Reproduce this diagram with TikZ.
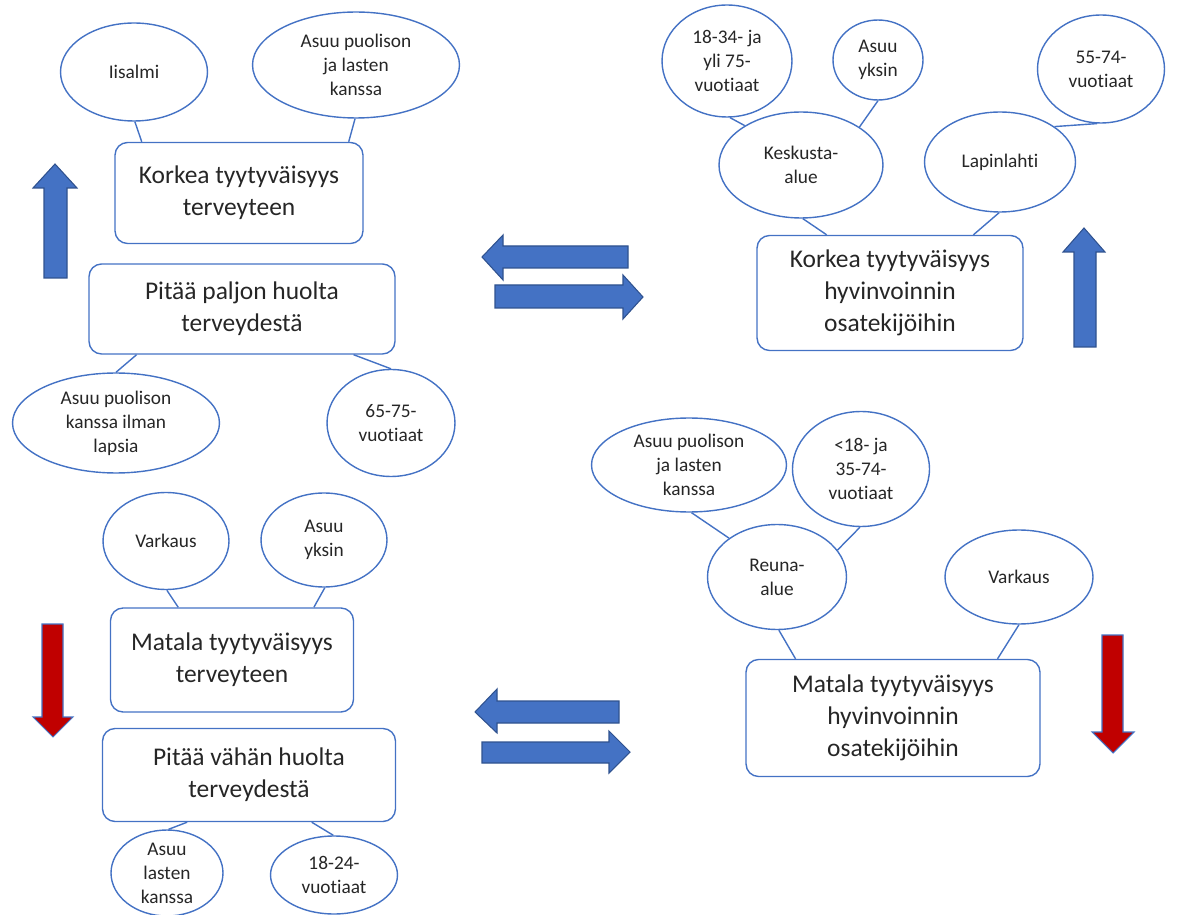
\documentclass[tikz,border=0pt]{standalone}
\usepackage{fontspec}
\setmainfont{Carlito}[Ligatures={NoCommon,NoContextual}]
\usetikzlibrary{shapes.geometric,calc}
\definecolor{officeblue}{RGB}{68,114,196}
\definecolor{darkblue}{RGB}{47,82,143}
\definecolor{darkred}{RGB}{192,0,0}

\begin{document}
\begin{tikzpicture}[x=0.02cm, y=-0.02cm,
        oval/.style={ellipse, draw=officeblue, line width=0.8pt, inner sep=0pt, align=center,
            text=black!85, font=\fontsize{11}{13.6}\selectfont},
        box/.style={rectangle, rounded corners=0.25cm, draw=officeblue, line width=0.8pt,
            align=center, text=black!85, font=\fontsize{14.5}{18.2}\selectfont},
        link/.style={draw=officeblue, line width=0.8pt},
        uparrow/.style={fill=officeblue, draw=darkblue, line width=0.6pt},
        downarrow/.style={fill=darkred, draw=officeblue, line width=0.6pt}]

        \useasboundingbox (0,0) rectangle (1194,915);

        % terveys, korkea
        \node[box, minimum width=4.96cm, minimum height=2.02cm] (kt) at (239,193) {Korkea tyytyväisyys\\terveyteen};
        \node[box, minimum width=6.12cm, minimum height=1.8cm] (pp) at (242,309) {Pitää paljon huolta\\terveydestä};
        \node[oval, minimum width=2.94cm, minimum height=1.96cm] (ia) at (134,72) {Iisalmi};
        \node[oval, minimum width=4.14cm, minimum height=2.12cm] (ap1) at (356,65) {Asuu puolison\\ja lasten\\kanssa};
        \node[oval, minimum width=4.14cm, minimum height=2.0cm] (ak) at (116,423) {Asuu puolison\\kanssa ilman\\lapsia};
        \node[oval, minimum width=2.56cm, minimum height=2.14cm] (v65) at (391,423) {65-75-\\vuotiaat};

        \draw[link] (ia.-89) -- ($(kt.north west)!.11!(kt.north east)$);
        \draw[link] (ap1.-91) -- ($(kt.north west)!.94!(kt.north east)$);
        \draw[link] ($(pp.south west)!.157!(pp.south east)$) -- (ak.90);
        \draw[link] ($(pp.south west)!.863!(pp.south east)$) -- (v65.90);

        % hyvinvointi, korkea
        \node[box, minimum width=5.32cm, minimum height=2.3cm] (kh) at (890,293) {Korkea tyytyväisyys\\hyvinvoinnin\\osatekijöihin};
        \node[oval, minimum width=2.6cm, minimum height=2.24cm] (a18) at (727,61) {18-34- ja\\yli 75-\\vuotiaat};
        \node[oval, minimum width=1.8cm, minimum height=1.6cm] (ay1) at (878,60) {Asuu\\yksin};
        \node[oval, minimum width=2.54cm, minimum height=2.16cm] (v55) at (1101,69) {55-74-\\vuotiaat};
        \node[oval, minimum width=3.28cm, minimum height=2.12cm] (kk) at (801,165) {Keskusta-\\alue};
        \node[oval, minimum width=3.02cm, minimum height=2.0cm] (lp) at (1000,162) {Lapinlahti};

        \draw[link] (a18.-87) -- (kk.145);
        \draw[link] (ay1.-90) -- (kk.33);
        \draw[link] (v55.-94) -- (lp.33);
        \draw[link] (kk.-88) -- ($(kh.north west)!.263!(kh.north east)$);
        \draw[link] (lp.-91) -- ($(kh.north west)!.812!(kh.north east)$);

        % terveys, matala
        \node[box, minimum width=4.86cm, minimum height=2.08cm] (mt) at (232,660) {Matala tyytyväisyys\\terveyteen};
        \node[box, minimum width=5.86cm, minimum height=1.86cm] (pv) at (249,775) {Pitää vähän huolta\\terveydestä};
        \node[oval, minimum width=2.52cm, minimum height=1.94cm] (va1) at (166,541) {Varkaus};
        \node[oval, minimum width=2.52cm, minimum height=1.88cm] (ay2) at (324,540) {Asuu\\yksin};
        \node[oval, minimum width=2.24cm, minimum height=1.72cm] (al) at (167,873) {Asuu\\lasten\\kanssa};
        \node[oval, minimum width=2.54cm, minimum height=1.56cm] (v18) at (334,875) {18-24-\\vuotiaat};

        \draw[link] (va1.-89) -- ($(mt.north west)!.28!(mt.north east)$);
        \draw[link] (ay2.-89) -- ($(mt.north west)!.835!(mt.north east)$);
        \draw[link] ($(pv.south west)!.29!(pv.south east)$) -- (al.88);
        \draw[link] ($(pv.south west)!.713!(pv.south east)$) -- (v18.91);

        % hyvinvointi, matala
        \node[box, minimum width=5.88cm, minimum height=2.34cm] (mh) at (893,718) {Matala tyytyväisyys\\hyvinvoinnin\\osatekijöihin};
        \node[oval, minimum width=3.9cm, minimum height=1.88cm] (ap2) at (689,465) {Asuu puolison\\ja lasten\\kanssa};
        \node[oval, minimum width=2.74cm, minimum height=2.3cm] (a35) at (861,469) {<18- ja\\35-74-\\vuotiaat};
        \node[oval, minimum width=2.78cm, minimum height=2.1cm] (ra) at (777,577) {Reuna-\\alue};
        \node[oval, minimum width=2.96cm, minimum height=1.88cm] (va2) at (1019,577) {Varkaus};

        \draw[link] (ap2.-87) -- (ra.141);
        \draw[link] (a35.-91) -- (ra.24);
        \draw[link] (ra.-88) -- ($(mh.north west)!.17!(mh.north east)$);
        \draw[link] (va2.-90) -- ($(mh.north west)!.854!(mh.north east)$);

        % nuolet
        \filldraw[uparrow] (44,278) -- (44,188) -- (33,188) -- (55,164) -- (77,188) -- (67,188) -- (67,278) -- cycle;
        \filldraw[uparrow] (1074,347) -- (1074,252) -- (1063,252) -- (1084,228) -- (1105,252) -- (1096,252) -- (1096,347) -- cycle;
        \filldraw[downarrow] (42,624) -- (42,717) -- (33,717) -- (53,737) -- (73,717) -- (63,717) -- (63,624) -- cycle;
        \filldraw[downarrow] (1102,635) -- (1102,732) -- (1092,732) -- (1113,753) -- (1134,732) -- (1123,732) -- (1123,635) -- cycle;

        \filldraw[uparrow] (628,246) -- (503,246) -- (503,235) -- (482,257) -- (503,280) -- (503,268) -- (628,268) -- cycle;
        \filldraw[uparrow] (495,285) -- (623,285) -- (623,275) -- (643,297) -- (623,319) -- (623,308) -- (495,308) -- cycle;
        \filldraw[uparrow] (619,701) -- (497,701) -- (497,689) -- (475,712) -- (497,733) -- (497,723) -- (619,723) -- cycle;
        \filldraw[uparrow] (482,742) -- (609,742) -- (609,731) -- (630,752) -- (609,773) -- (609,763) -- (482,763) -- cycle;

    \end{tikzpicture}
\end{document}
